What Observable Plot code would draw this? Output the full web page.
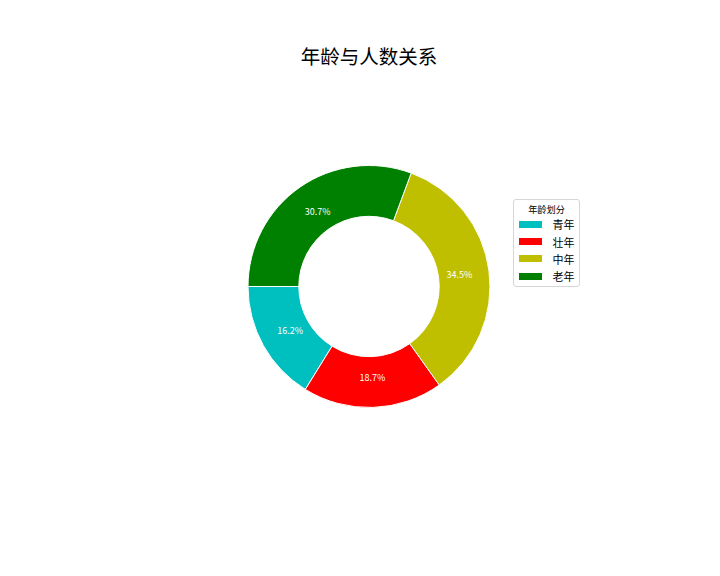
<!DOCTYPE html>
<html><head><meta charset="utf-8">
<script src="https://cdn.jsdelivr.net/npm/d3@7"></script>
<script src="https://cdn.jsdelivr.net/npm/@observablehq/plot@0.6"></script>
<style>
body{margin:0;background:#fff;font-family:"Noto Sans CJK SC",sans-serif;}
#wrap{position:relative;width:720px;height:576px;background:#fff;}
#title{height:80px;box-sizing:border-box;padding-top:43px;padding-left:18px;width:720px;text-align:center;font-size:19.5px;line-height:26px;color:#000;}
#legend{position:absolute;left:513px;top:199px;width:67px;height:88px;border:1px solid #d6d6d6;border-radius:3px;background:rgba(255,255,255,0.8);box-sizing:border-box;}
#legend .lt{position:absolute;left:0;width:100%;text-align:center;top:2px;font-size:9.2px;line-height:14px;color:#000;}
#legend .sw{position:absolute;left:5px;width:23px;height:7px;}
#legend .lb{position:absolute;left:38.5px;font-size:11px;line-height:14px;color:#000;}
</style>
</head><body>
<div id="wrap">
  <div id="title"></div>
  <div id="chart"></div>
  <div id="legend"></div>
</div>
<script>
const title = "年龄与人数关系";
const legendTitle = "年龄划分";
const categories = ["青年", "壮年", "中年", "老年"];
const values = [16.2, 18.7, 34.5, 30.7];
const colors = ["#00bfbf", "#ff0000", "#bfbf00", "#008000"];

document.getElementById("title").textContent = title;

const total = d3.sum(values);
const pie = d3.pie().sort(null).startAngle(1.5 * Math.PI).endAngle(-0.5 * Math.PI);
const arcs = pie(values);
const innerFrac = 0.58;
const pctDist = 0.75;

const labelData = arcs.map((a, i) => {
  const mid = (a.startAngle + a.endAngle) / 2;
  return {
    x: pctDist * Math.sin(mid),
    y: pctDist * Math.cos(mid),
    text: (100 * values[i] / total).toFixed(1) + "%"
  };
});

function donut(index, scales) {
  const cx = scales.x(0), cy = scales.y(0), r = scales.x(1) - cx;
  const arc = d3.arc().innerRadius(r * innerFrac).outerRadius(r);
  const g = d3.create("svg:g").attr("transform", `translate(${cx},${cy})`);
  g.selectAll("path").data(arcs).join("path")
    .attr("d", arc)
    .attr("fill", (d, i) => colors[i])
    .attr("stroke", "white")
    .attr("stroke-width", 1)
    .attr("stroke-linejoin", "round");
  return g.node();
}

const chart = Plot.plot({
  width: 720,
  height: 496,
  margin: 0,
  style: {fontFamily: '"Noto Sans CJK SC", sans-serif', background: "white"},
  x: {domain: [-3.0496, 2.9008], axis: null},
  y: {domain: [-2.3926, 1.7066], axis: null},
  marks: [
    donut,
    Plot.text(labelData, {x: "x", y: "y", text: "text", fill: "white", fontSize: 9})
  ]
});
document.getElementById("chart").appendChild(chart);

const lg = document.getElementById("legend");
const lt = document.createElement("div");
lt.className = "lt"; lt.textContent = legendTitle; lg.appendChild(lt);
categories.forEach((c, i) => {
  const top = 24.3 + i * 17.3;
  const sw = document.createElement("div");
  sw.className = "sw"; sw.style.top = (top - 3.5) + "px"; sw.style.background = colors[i];
  lg.appendChild(sw);
  const lb = document.createElement("div");
  lb.className = "lb"; lb.style.top = (top - 7) + "px"; lb.textContent = c;
  lg.appendChild(lb);
});
</script>
</body></html>
